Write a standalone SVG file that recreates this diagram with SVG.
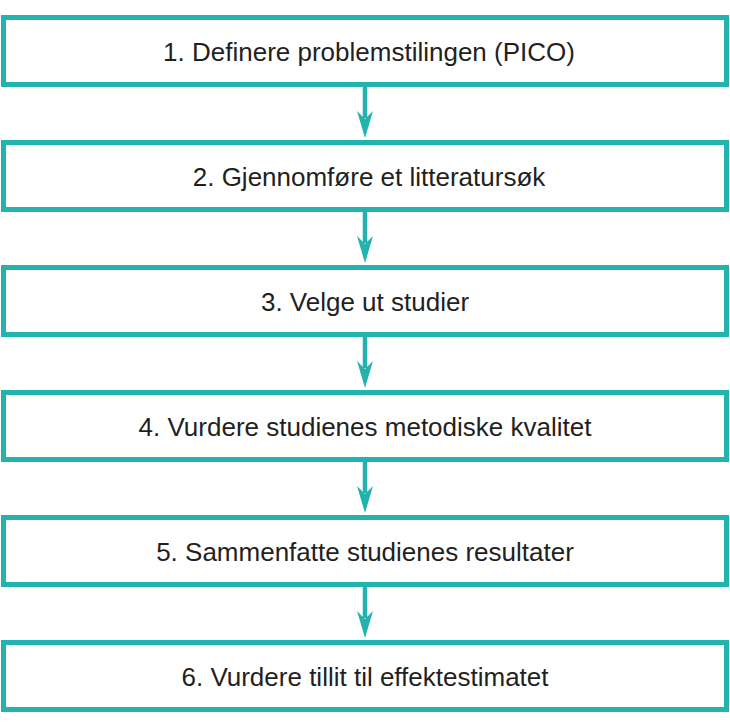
<svg xmlns="http://www.w3.org/2000/svg" width="730" height="726" viewBox="0 0 730 726">
<style>
.b{fill:#fff;stroke:#22b3ae;stroke-width:5}
.t{font-family:"Liberation Sans",Arial,sans-serif;font-size:26px;fill:#231f20;text-anchor:middle}
.c{stroke:#22b3ae;stroke-width:4.5;fill:none}
.h{fill:#22b3ae}
</style>
<defs><path id="ah" d="M-8,-27 L0,-19 L8,-27 L0,0 Z" class="h"/></defs>
<rect width="730" height="726" fill="#fff"/>
<g id="connectors">
<line class="c" x1="365" y1="87" x2="365" y2="118"/><use href="#ah" x="365" y="138"/>
<line class="c" x1="365" y1="212" x2="365" y2="243"/><use href="#ah" x="365" y="263"/>
<line class="c" x1="365" y1="337" x2="365" y2="368"/><use href="#ah" x="365" y="388"/>
<line class="c" x1="365" y1="462" x2="365" y2="493"/><use href="#ah" x="365" y="513"/>
<line class="c" x1="365" y1="587" x2="365" y2="618"/><use href="#ah" x="365" y="638"/>
</g>
<g id="n1"><rect class="b" x="3.5" y="17.5" width="723" height="67"/><text class="t" x="369" y="61">1. Definere problemstilingen (PICO)</text></g>
<g id="n2"><rect class="b" x="3.5" y="142.5" width="723" height="67"/><text class="t" x="369" y="186">2. Gjennomføre et litteratursøk</text></g>
<g id="n3"><rect class="b" x="3.5" y="267.5" width="723" height="67"/><text class="t" x="365" y="311">3. Velge ut studier</text></g>
<g id="n4"><rect class="b" x="3.5" y="392.5" width="723" height="67"/><text class="t" x="365" y="436">4. Vurdere studienes metodiske kvalitet</text></g>
<g id="n5"><rect class="b" x="3.5" y="517.5" width="723" height="67"/><text class="t" x="365" y="561">5. Sammenfatte studienes resultater</text></g>
<g id="n6"><rect class="b" x="3.5" y="642.5" width="723" height="67"/><text class="t" x="365" y="686">6. Vurdere tillit til effektestimatet</text></g>
</svg>
